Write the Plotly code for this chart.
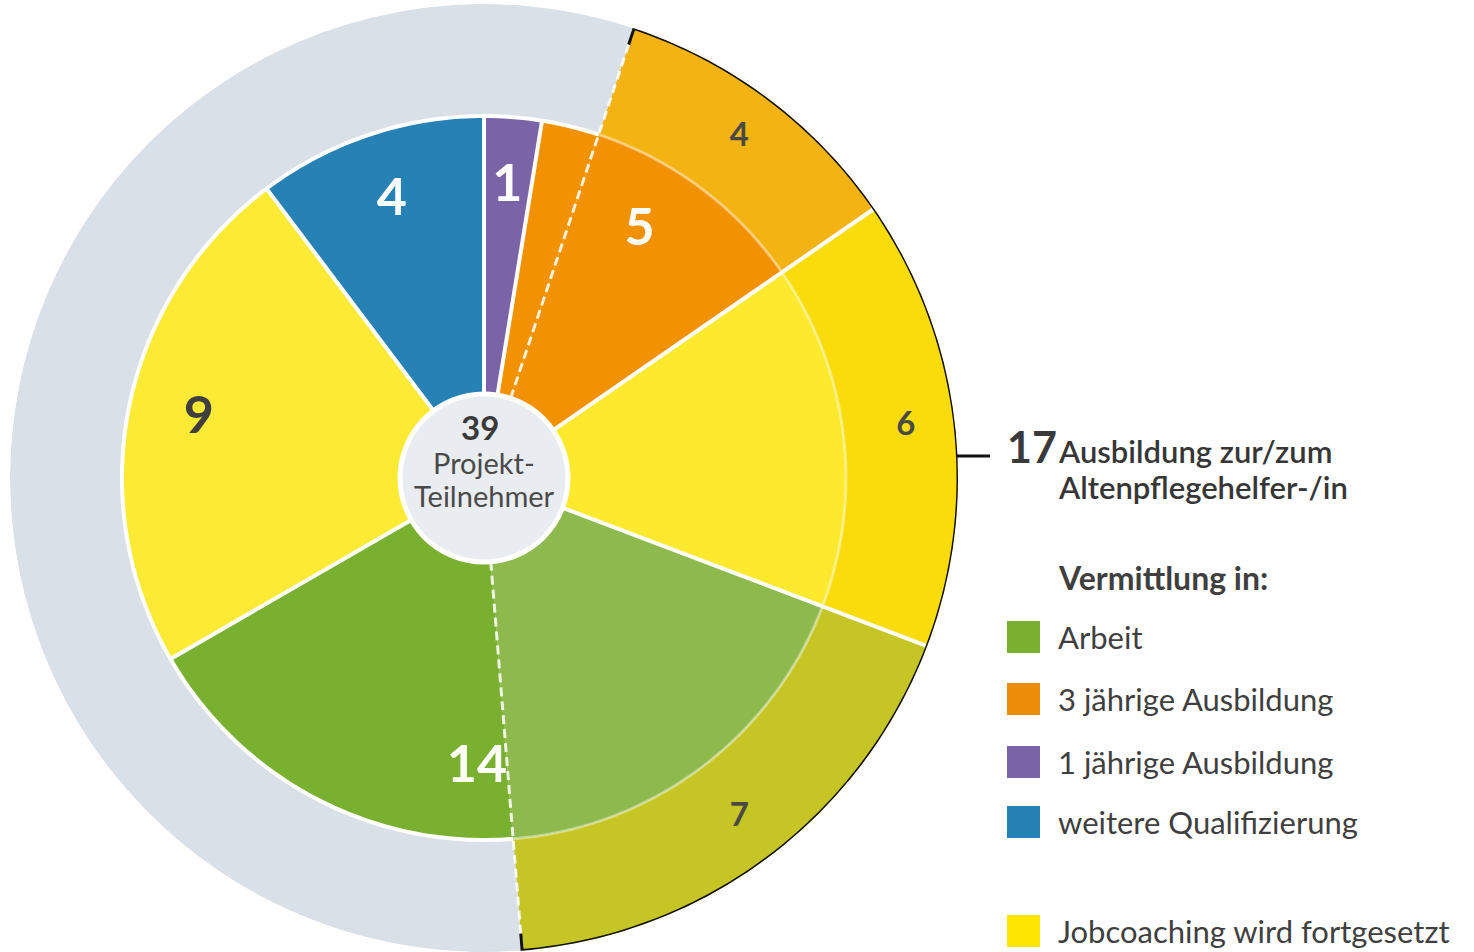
import numpy as np
import plotly.graph_objects as go

# ---------------- data ----------------
center_total = "39"
center_caption = ["Projekt-", "Teilnehmer"]

inner_names = ["1 jährige Ausbildung", "3 jährige Ausbildung", "Jobcoaching wird fortgesetzt",
               "Arbeit", "Jobcoaching wird fortgesetzt", "weitere Qualifizierung"]
inner_values = [1, 5, 6, 14, 9, 4]
inner_colors = ["#7B63A7", "#F39200", "#FDEA2E", "#7AB030", "#FCEA34", "#2681B5"]
inner_overlap_colors = ["#7B63A7", "#F39200", "#FDEA2E", "#8EB94C", "#FCEA34", "#2681B5"]
inner_show_label = [True, True, False, True, True, True]
inner_label_colors = ["#FFFFFF", "#FFFFFF", "#FFFFFF", "#FFFFFF", "#3F3F3F", "#FFFFFF"]

outer_start = 2            # participants before the Altenpflegehelfer block
outer_values = [4, 6, 7]   # 17 Ausbildung zur/zum Altenpflegehelfer-/in
outer_colors = ["#F3B313", "#F9DC0A", "#C6C526"]
outer_rest_color = "#D9E0E7"
outer_total_label = "17"
outer_caption = ["Ausbildung zur/zum", "Altenpflegehelfer-/in"]

legend_title = "Vermittlung in:"
legend_labels = ["Arbeit", "3 jährige Ausbildung", "1 jährige Ausbildung",
                 "weitere Qualifizierung", "Jobcoaching wird fortgesetzt"]
legend_colors = ["#7AB030", "#EC8D0A", "#7B63A7", "#2681B5", "#FFE600"]

# ---------------- style / geometry ----------------
W, H = 1474, 952
CX, CY = 484, 478
R_CENTER, R_INNER, R_OUTER = 84, 362, 474
FONT = "Lato"
TXT = "#3F3F3F"
inner_label_shift = [0, 0, 0, 6, 0, 0]  # degrees
legend_rows_y = [637, 699, 762, 822, 931]


def px(x):
    return x / W


def py(y):
    return 1 - y / H


total = sum(inner_values)
deg = 360.0 / total
ov_a = outer_start
ov_b = outer_start + sum(outer_values)

fig = go.Figure()

# outer ring
o_theta, o_width, o_color = [], [], []
cum = outer_start
for v, c in zip(outer_values, outer_colors):
    o_theta.append((cum + v / 2) * deg)
    o_width.append(v * deg)
    o_color.append(c)
    cum += v
rest = total - sum(outer_values)
o_theta.append((cum + rest / 2) * deg)
o_width.append(rest * deg)
o_color.append(outer_rest_color)
fig.add_trace(go.Barpolar(
    theta=o_theta, width=o_width, r=[R_OUTER - R_INNER] * len(o_theta),
    base=[R_INNER] * len(o_theta), marker=dict(color=o_color, line=dict(width=0)),
    hoverinfo="skip", showlegend=False))

# inner pie (pieces inside the Altenpflegehelfer range use the overlap colour)
i_theta, i_width, i_color = [], [], []
cum = 0
bounds = []
for v, c, oc in zip(inner_values, inner_colors, inner_overlap_colors):
    a, b = cum, cum + v
    bounds.append(a)
    cuts = sorted({a, b} | {p for p in (ov_a, ov_b) if a < p < b})
    for s, e in zip(cuts[:-1], cuts[1:]):
        inside = s >= ov_a and e <= ov_b
        i_theta.append((s + e) / 2 * deg)
        i_width.append((e - s) * deg)
        i_color.append(oc if inside else c)
    cum = b
fig.add_trace(go.Barpolar(
    theta=i_theta, width=i_width, r=[R_INNER] * len(i_theta), base=[0] * len(i_theta),
    marker=dict(color=i_color, line=dict(width=0)), hoverinfo="skip", showlegend=False))

# white radial separators
outer_inner_bounds = set()
cum = outer_start
for v in outer_values[:-1]:
    cum += v
    outer_inner_bounds.add(cum)
sr, st = [], []
for bnd in bounds:
    sr += [0, R_OUTER if bnd in outer_inner_bounds else R_INNER, None]
    st += [bnd * deg, bnd * deg, None]
fig.add_trace(go.Scatterpolar(r=sr, theta=st, mode="lines", line=dict(color="white", width=4),
                              hoverinfo="skip", showlegend=False, connectgaps=False))

# dashed separators at the ends of the Altenpflegehelfer block
dr, dt = [], []
for bnd in (ov_a, ov_b):
    dr += [0, R_OUTER, None]
    dt += [bnd * deg, bnd * deg, None]
fig.add_trace(go.Scatterpolar(r=dr, theta=dt, mode="lines",
                              line=dict(color="rgba(255,255,255,0.85)", width=3, dash="9px,5px"),
                              hoverinfo="skip", showlegend=False, connectgaps=False))

# arcs at the inner pie edge
arc_out = np.linspace(ov_b * deg, (ov_a + total) * deg, 200)
fig.add_trace(go.Scatterpolar(r=[R_INNER] * len(arc_out), theta=arc_out, mode="lines",
                              line=dict(color="white", width=4), hoverinfo="skip", showlegend=False))
arc_in = np.linspace(ov_a * deg, ov_b * deg, 160)
fig.add_trace(go.Scatterpolar(r=[R_INNER] * len(arc_in), theta=arc_in, mode="lines",
                              line=dict(color="rgba(255,255,255,0.4)", width=3), hoverinfo="skip",
                              showlegend=False))

# black bracket arc around the Altenpflegehelfer block
br = [R_OUTER - 17] + [R_OUTER] * len(arc_in) + [R_OUTER - 17]
bt = [ov_a * deg] + list(arc_in) + [ov_b * deg]
fig.add_trace(go.Scatterpolar(r=br, theta=bt, mode="lines", line=dict(color="#111111", width=3),
                              hoverinfo="skip", showlegend=False, cliponaxis=False))

# inner labels
lr, lt, ltxt, lcol = [], [], [], []
cum = 0
for v, show, col, sh in zip(inner_values, inner_show_label, inner_label_colors, inner_label_shift):
    if show:
        lr.append(291)
        lt.append((cum + v / 2) * deg + sh)
        ltxt.append(str(v))
        lcol.append(col)
    cum += v
fig.add_trace(go.Scatterpolar(r=lr, theta=lt, text=ltxt, mode="text",
                              textfont=dict(family=FONT, size=52, color=lcol, weight="bold"),
                              hoverinfo="skip", showlegend=False, cliponaxis=False))

# outer labels
orr, ot, otxt = [], [], []
cum = outer_start
for v in outer_values:
    orr.append(425)
    ot.append((cum + v / 2) * deg)
    otxt.append(str(v))
    cum += v
fig.add_trace(go.Scatterpolar(r=orr, theta=ot, text=otxt, mode="text",
                              textfont=dict(family=FONT, size=33, color="#4A4A44", weight="bold"),
                              hoverinfo="skip", showlegend=False, cliponaxis=False))

shapes = []
annotations = []

# centre circle
shapes.append(dict(type="circle", xref="paper", yref="paper",
                   x0=px(CX - R_CENTER), x1=px(CX + R_CENTER),
                   y0=py(CY + R_CENTER), y1=py(CY - R_CENTER),
                   fillcolor="#E9ECF0", line=dict(color="white", width=5), layer="above"))
annotations.append(dict(x=px(CX - 4), y=py(427), text="<b>" + center_total + "</b>", showarrow=False,
                        xref="paper", yref="paper", xanchor="center", yanchor="middle",
                        font=dict(family=FONT, size=33, color="#3A3A3A")))
for i, line in enumerate(center_caption):
    annotations.append(dict(x=px(CX), y=py(462 + 33 * i), text=line, showarrow=False,
                            xref="paper", yref="paper", xanchor="center", yanchor="middle",
                            font=dict(family=FONT, size=29, color="#4A4A4A")))

# bracket tick to the 17 caption
shapes.append(dict(type="line", xref="paper", yref="paper", x0=px(957), x1=px(990),
                   y0=py(456), y1=py(456), line=dict(color="#111111", width=3)))
annotations.append(dict(x=px(1005), y=py(446), text="<b>" + outer_total_label + "</b>", showarrow=False,
                        xref="paper", yref="paper", xanchor="left", yanchor="middle",
                        font=dict(family=FONT, size=43, color="#3A3A3A")))
for i, line in enumerate(outer_caption):
    annotations.append(dict(x=px(1056), y=py(451 + 36 * i), text=line, showarrow=False,
                            xref="paper", yref="paper", xanchor="left", yanchor="middle",
                            font=dict(family=FONT, size=31, color="#363636", weight=600)))

# legend
annotations.append(dict(x=px(1056), y=py(577), text="<b>" + legend_title + "</b>", showarrow=False,
                        xref="paper", yref="paper", xanchor="left", yanchor="middle",
                        font=dict(family=FONT, size=32, color="#3F3F3F")))
for lab, col, yy in zip(legend_labels, legend_colors, legend_rows_y):
    shapes.append(dict(type="rect", xref="paper", yref="paper", x0=px(1007), x1=px(1040),
                       y0=py(yy + 16), y1=py(yy - 16), fillcolor=col, line=dict(width=0)))
    annotations.append(dict(x=px(1056), y=py(yy), text=lab, showarrow=False,
                            xref="paper", yref="paper", xanchor="left", yanchor="middle",
                            font=dict(family=FONT, size=31, color=TXT)))

fig.update_layout(
    width=W, height=H, margin=dict(l=0, r=0, t=0, b=0),
    paper_bgcolor="white", plot_bgcolor="white",
    polar=dict(
        domain=dict(x=[px(CX - R_OUTER), px(CX + R_OUTER)], y=[py(CY + R_OUTER), py(CY - R_OUTER)]),
        bgcolor="rgba(0,0,0,0)", barmode="overlay",
        radialaxis=dict(visible=False, range=[0, R_OUTER]),
        angularaxis=dict(rotation=90, direction="clockwise", showgrid=False, showline=False,
                         ticks="", showticklabels=False),
    ),
    shapes=shapes, annotations=annotations, showlegend=False,
)

fig.write_html("out.html", config={"displayModeBar": False},
               post_script="document.body.style.margin='0px';")
